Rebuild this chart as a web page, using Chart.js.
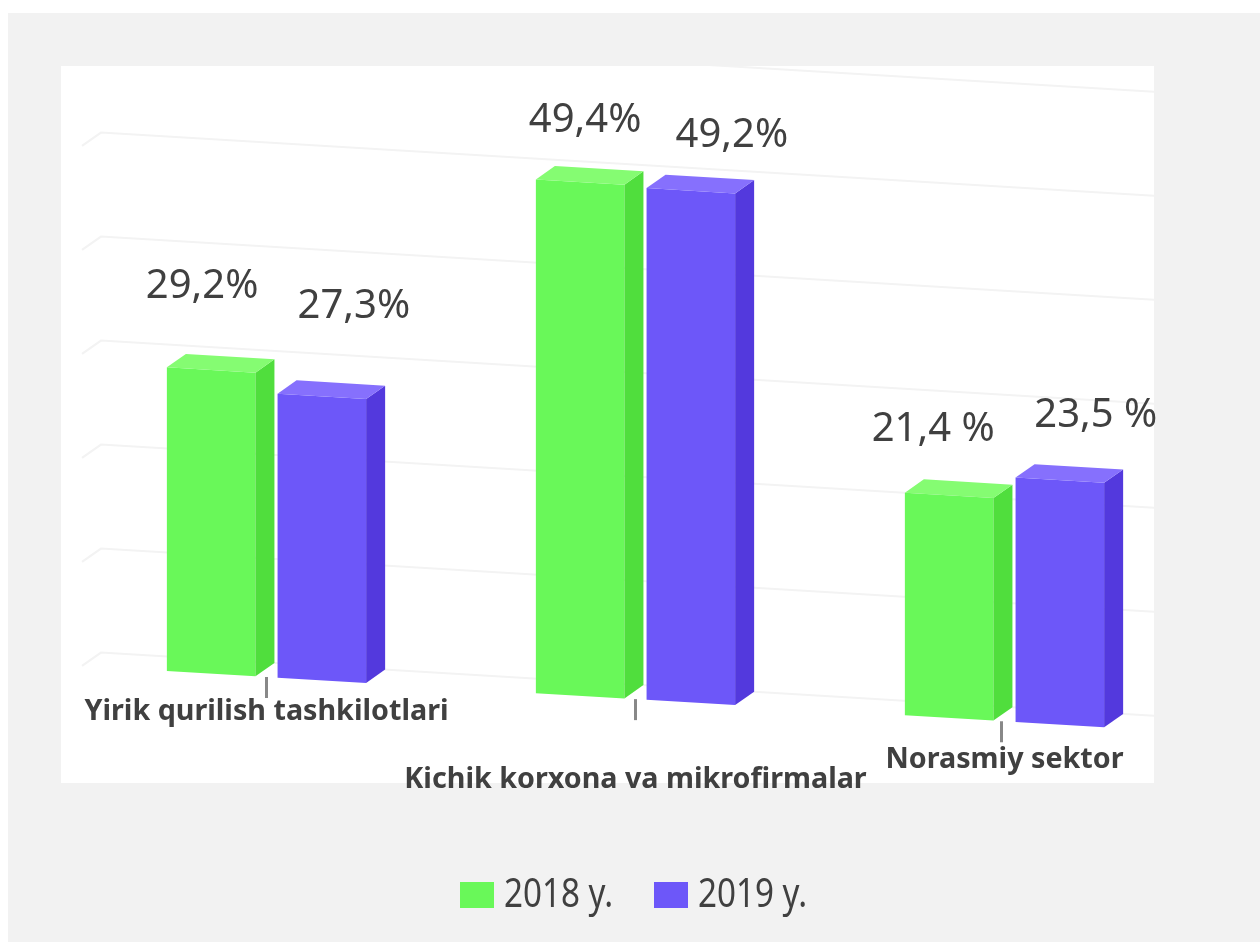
<!DOCTYPE html>
<html>
<head>
<meta charset="utf-8">
<script src="https://cdn.jsdelivr.net/npm/chart.js@4"></script>
<style>
  html, body { margin: 0; padding: 0; background: #fff; }
  #bg { position: absolute; left: 8px; top: 13px; width: 1252px; height: 929px; background: #f2f2f2; }
  #panel { position: absolute; left: 61px; top: 66px; width: 1093px; height: 717px; background: #fff; }
  #wrap { position: absolute; left: 0; top: 0; width: 1260px; height: 942px; }
</style>
</head>
<body>
<div id="bg"></div>
<div id="panel"></div>
<div id="wrap"><canvas id="chart" width="1260" height="942"></canvas></div>
<script>
// data
const categories = ['Yirik qurilish tashkilotlari', 'Kichik korxona va mikrofirmalar', 'Norasmiy sektor'];
const seriesNames = ['2018 y.', '2019 y.'];
const values2018 = [29.2, 49.4, 21.4];
const values2019 = [27.3, 49.2, 23.5];
const labels2018 = ['29,2%', '49,4%', '21,4 %'];
const labels2019 = ['27,3%', '49,2%', '23,5 %'];

// styles
const textColor = '#404040';
const frontColors = ['#69f859', '#6d57f9'];
const sideColors = ['#50de3d', '#5339dd'];
const topColors = ['#85fc72', '#8670fd'];
const gridColor = '#f3f3f3';
const tilt = 0.06;     // the whole floor runs downhill to the right
const depthX = 19;
const depthY = -14.5;
const panelBox = { left: 61, top: 66, right: 1154, bottom: 783 };

// value label offsets from the top middle of each bar
const labelShift = [
  [[-9, -81], [5, -59], [-16, -63]],
  [[32, -87], [41, -53], [36, -62]]
];
// category label distance under the bar floor, tick nudge
const categoryDrop = [35, 81, 39];
const tickShift = [0, 0, -3];
// legend placement
const legendX = [460, 654];
const legendY = 882;

function applyTilt(ctx) {
  ctx.transform(1, tilt, 0, 1, 0, 0);
}

// back wall lines
const wallGrid = {
  id: 'wallGrid',
  beforeDatasetsDraw(chart) {
    const ctx = chart.ctx;
    const area = chart.chartArea;
    const yScale = chart.scales.y;
    ctx.save();
    ctx.beginPath();
    ctx.rect(panelBox.left, panelBox.top, panelBox.right - panelBox.left, panelBox.bottom - panelBox.top);
    ctx.clip();
    applyTilt(ctx);
    ctx.strokeStyle = gridColor;
    ctx.lineWidth = 2;
    yScale.ticks.forEach(tick => {
      const y = yScale.getPixelForValue(tick.value);
      ctx.beginPath();
      ctx.moveTo(area.left, y);
      ctx.lineTo(area.left + depthX, y + depthY);
      ctx.lineTo(area.right + depthX + 60, y + depthY);
      ctx.stroke();
    });
    ctx.restore();
    // bars get drawn tilted as well
    ctx.save();
    applyTilt(ctx);
  },
  afterDatasetsDraw(chart) {
    const ctx = chart.ctx;
    chart.data.datasets.forEach((ds, d) => {
      chart.getDatasetMeta(d).data.forEach(bar => {
        const left = bar.x - bar.width / 2;
        const right = bar.x + bar.width / 2;
        // side
        ctx.fillStyle = sideColors[d];
        ctx.beginPath();
        ctx.moveTo(right, bar.y);
        ctx.lineTo(right + depthX, bar.y + depthY);
        ctx.lineTo(right + depthX, bar.base + depthY);
        ctx.lineTo(right, bar.base);
        ctx.closePath();
        ctx.fill();
        // top
        ctx.fillStyle = topColors[d];
        ctx.beginPath();
        ctx.moveTo(left, bar.y);
        ctx.lineTo(left + depthX, bar.y + depthY);
        ctx.lineTo(right + depthX, bar.y + depthY);
        ctx.lineTo(right, bar.y);
        ctx.closePath();
        ctx.fill();
      });
    });
    ctx.restore();
  }
};

// value labels, category labels, small ticks and the legend
const textLabels = {
  id: 'textLabels',
  afterDraw(chart) {
    const ctx = chart.ctx;
    const base = chart.scales.y.getPixelForValue(0);
    ctx.save();
    ctx.textAlign = 'center';
    ctx.textBaseline = 'middle';
    ctx.fillStyle = textColor;

    ctx.font = '40px "Noto Sans"';
    [labels2018, labels2019].forEach((texts, d) => {
      chart.getDatasetMeta(d).data.forEach((bar, i) => {
        const y = bar.y + tilt * (bar.x - bar.width / 2);
        ctx.fillText(texts[i], bar.x + labelShift[d][i][0], y + labelShift[d][i][1]);
      });
    });

    categories.forEach((name, i) => {
      const x = chart.scales.x.getPixelForValue(i);
      const floor = base + tilt * x;
      ctx.fillStyle = '#888';
      ctx.fillRect(x - 1.5 + tickShift[i], floor, 3, 21);
      ctx.fillStyle = textColor;
      ctx.font = 'bold 28.7px "Noto Sans"';
      ctx.fillText(name, x, floor + categoryDrop[i]);
    });

    // legend text is narrower and taller than the plain font
    chart.data.datasets.forEach((ds, d) => {
      ctx.fillStyle = ds.backgroundColor;
      ctx.fillRect(legendX[d], legendY, 34, 26);
      ctx.save();
      ctx.translate(legendX[d] + 44, legendY + 14);
      ctx.scale(0.83, 1);
      ctx.textAlign = 'left';
      ctx.fillStyle = textColor;
      ctx.font = '40px "Noto Sans"';
      ctx.fillText(ds.label, 0, 0);
      ctx.restore();
    });
    ctx.restore();
  }
};

new Chart(document.getElementById('chart').getContext('2d'), {
  type: 'bar',
  data: {
    labels: categories,
    datasets: [
      { label: seriesNames[0], data: values2018, backgroundColor: frontColors[0] },
      { label: seriesNames[1], data: values2019, backgroundColor: frontColors[1] }
    ]
  },
  options: {
    responsive: false,
    animation: false,
    layout: { padding: { left: 82, right: 71, top: 37, bottom: 281 } },
    datasets: { bar: { categoryPercentage: 0.6, barPercentage: 0.8, clip: false } },
    scales: {
      x: { display: false },
      y: { display: false, min: 0, max: 60, ticks: { stepSize: 10 } }
    },
    plugins: {
      tooltip: { enabled: false },
      legend: { display: false }
    }
  },
  plugins: [wallGrid, textLabels]
});
</script>
</body>
</html>
